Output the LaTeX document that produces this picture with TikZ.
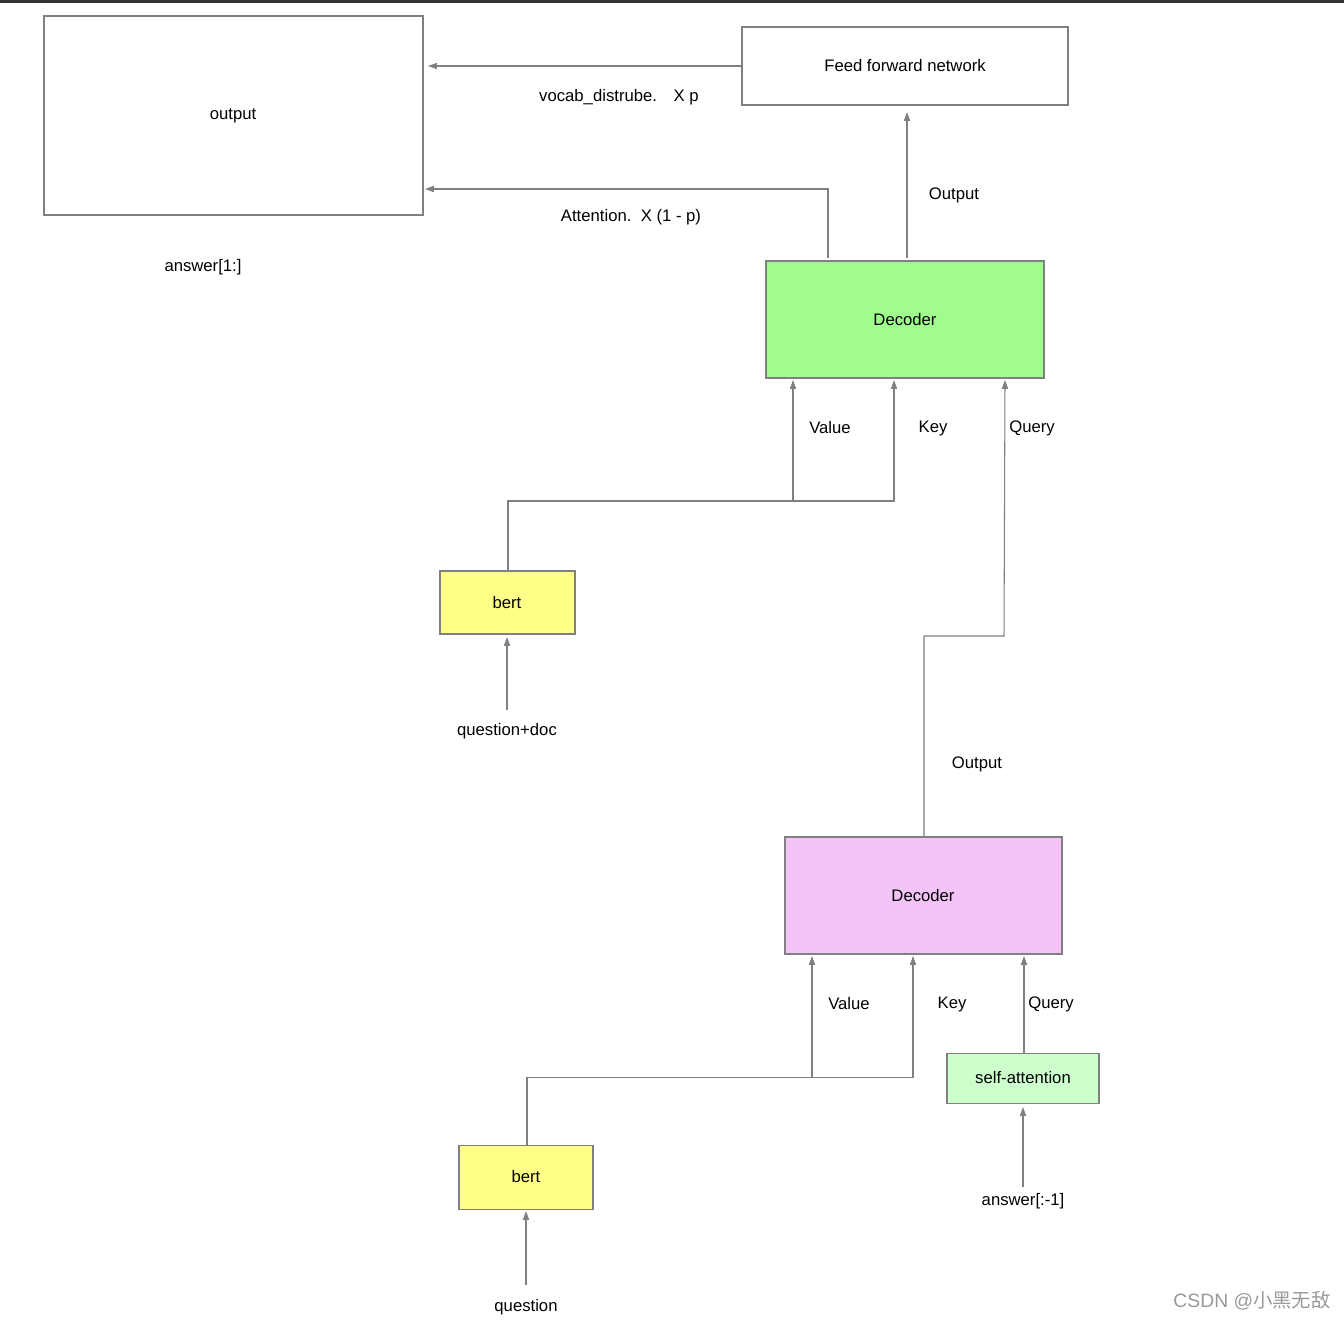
\documentclass[tikz,border=0pt]{standalone}
\usepackage{fontspec}
\setmainfont{Liberation Sans}
\newfontfamily\cjk{Noto Sans CJK SC}
\usetikzlibrary{arrows.meta}
\definecolor{lineg}{HTML}{808080}
\tikzset{
  blk/.style={draw=lineg, line width=0.6pt, inner sep=0pt},
  lbl/.style={font=\fontsize{9.5}{11}\selectfont, inner sep=0pt},
  conn/.style={draw=lineg, line width=0.6pt},
  arr/.style={conn, -{Triangle[length=5pt,width=3.5pt]}}
}
\begin{document}
\begin{tikzpicture}[x=0.02cm, y=-0.02cm]
  \useasboundingbox (0,0) rectangle (1344,1320);
  \fill[black!80] (0,0) rectangle (1344,3);
  % boxes
  \draw[blk] (44,16) rectangle (423,215);
  \node[lbl] (outbox) at (233,116) {output};
  \draw[blk] (742,27) rectangle (1068,105);
  \node[lbl] (ffn) at (905,66) {Feed forward network};
  \draw[blk, fill={rgb,255:red,160;green,252;blue,140}] (766,261) rectangle (1044,378);
  \node[lbl] (dec1) at (905,320) {Decoder};
  \draw[blk, fill={rgb,255:red,255;green,255;blue,136}] (440,571) rectangle (575,634);
  \node[lbl] (bert1) at (507,603) {bert};
  \draw[blk, fill={rgb,255:red,244;green,196;blue,249}] (785,837) rectangle (1062,954);
  \node[lbl] (dec2) at (923,896) {Decoder};
  \draw[blk, fill={rgb,255:red,204;green,255;blue,204}] (947,1053) rectangle (1099,1103);
  \node[lbl] (selfatt) at (1023,1078) {self-attention};
  \draw[blk, fill={rgb,255:red,255;green,255;blue,136}] (459,1145) rectangle (593,1209);
  \node[lbl] (bert2) at (526,1177) {bert};
  % connector points
  \coordinate (c1) at (742,66);  \coordinate (c2) at (428,66);
  \coordinate (c3) at (828,258); \coordinate (c4) at (828,189); \coordinate (c5) at (425,189);
  \coordinate (c6) at (907,258); \coordinate (c7) at (907,112);
  \coordinate (b1) at (508,571); \coordinate (b2) at (508,501); \coordinate (b3) at (894,501);
  \coordinate (b4) at (894,380); \coordinate (b5) at (793,501); \coordinate (b6) at (793,380);
  \coordinate (q1) at (924,837); \coordinate (q2) at (924,636); \coordinate (q3) at (1004,636);
  \coordinate (q4) at (1005,380);
  \coordinate (d1) at (507,710); \coordinate (d2) at (507,637);
  \coordinate (e1) at (527,1145); \coordinate (e2) at (527,1077); \coordinate (e3) at (913,1077);
  \coordinate (e4) at (913,956); \coordinate (e5) at (812,1077); \coordinate (e6) at (812,956);
  \coordinate (s1) at (1024,1053); \coordinate (s2) at (1024,956);
  \coordinate (a1) at (1023,1187); \coordinate (a2) at (1023,1107);
  \coordinate (f1) at (526,1285); \coordinate (f2) at (526,1211);
  % connectors
  \draw[arr] (c1) -- (c2);
  \draw[arr] (c3) -- (c4) -- (c5);
  \draw[arr] (c6) -- (c7);
  \draw[arr] (b1) -- (b2) -- (b3) -- (b4);
  \draw[arr] (b5) -- (b6);
  \draw[arr] (q1) -- (q2) -- (q3) -- (q4);
  \draw[arr] (d1) -- (d2);
  \draw[arr] (e1) -- (e2) -- (e3) -- (e4);
  \draw[arr] (e5) -- (e6);
  \draw[arr] (s1) -- (s2);
  \draw[arr] (a1) -- (a2);
  \draw[arr] (f1) -- (f2);
  % labels
  \node[lbl] (vocab) at (619,97) {vocab\_distrube.\quad X p};
  \node[lbl] (attn) at (631,217) {Attention.\ \ X (1 - p)};
  \node[lbl] (ans1) at (203,267) {answer[1:]};
  \node[lbl] (out1) at (954,195) {Output};
  \node[lbl] (val1) at (830,428) {Value};
  \node[lbl] (key1) at (933,428) {Key};
  \node[lbl] (qry1) at (1032,428) {Query};
  \node[lbl] (qd) at (507,731) {question+doc};
  \node[lbl] (out2) at (977,764) {Output};
  \node[lbl] (val2) at (849,1004) {Value};
  \node[lbl] (key2) at (952,1004) {Key};
  \node[lbl] (qry2) at (1051,1004) {Query};
  \node[lbl] (ans2) at (1023,1201) {answer[:-1]};
  \node[lbl] (qst) at (526,1307) {question};
  \node[lbl, text=black!40, font=\fontsize{11}{13}\selectfont] (wm) at (1252,1301) {CSDN @{\cjk 小黑无敌}};
\end{tikzpicture}
\end{document}
